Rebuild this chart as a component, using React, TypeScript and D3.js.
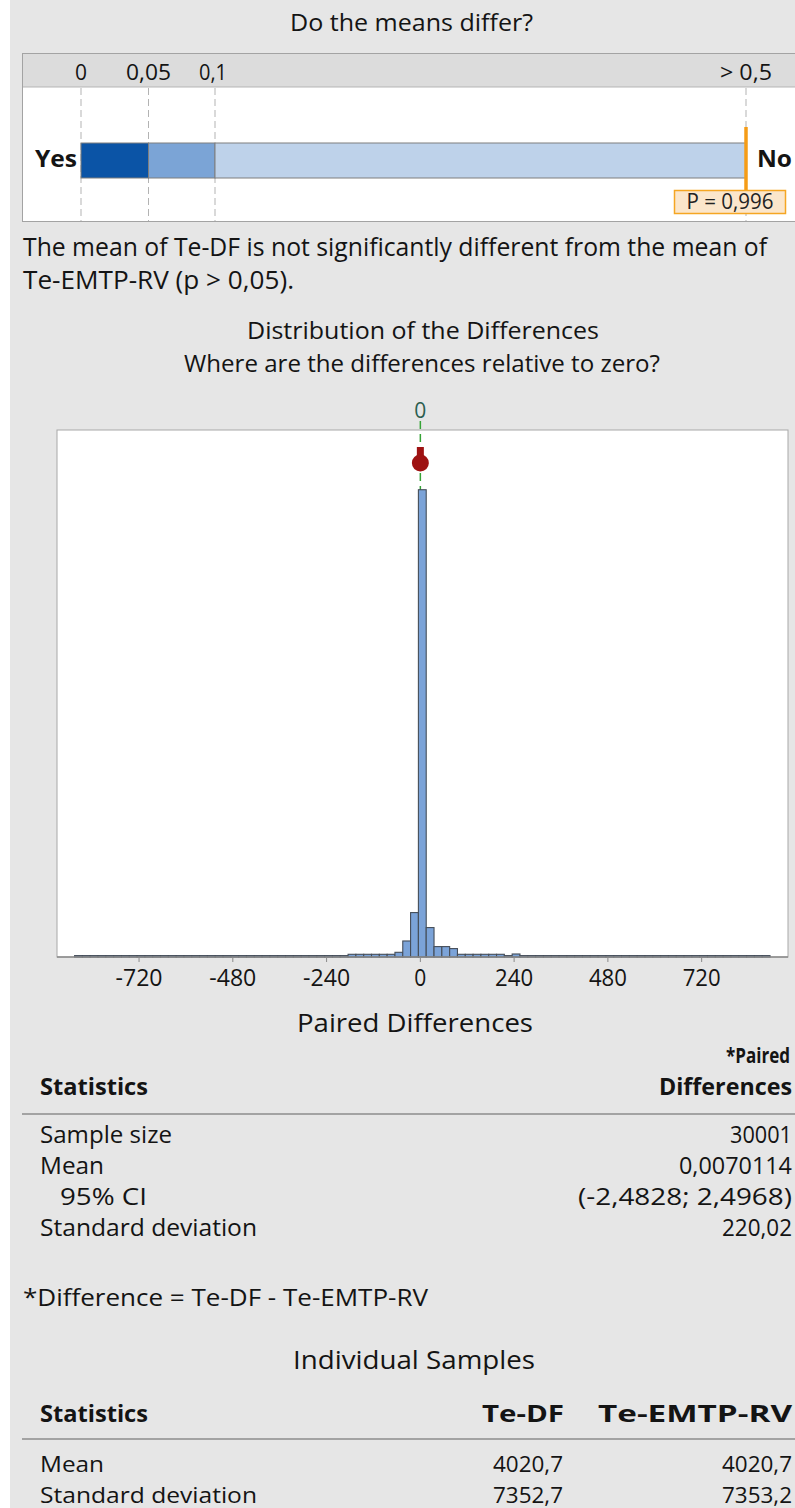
import React from "react";
import * as d3 from "d3";

const FONT = "'Open Sans', 'Noto Sans', 'DejaVu Sans', sans-serif";

// ---- "Do the means differ?" p-value scale ----
const pTickValues = [0, 0.05, 0.1, 0.5];
const pTickLabels = ["0", "0,05", "0,1", "> 0,5"];
const pBandEdges = [0, 0.05, 0.1, 0.5];
const pValue = 0.996;
const pValueLabel = "P = 0,996";

// ---- Distribution of the paired differences (histogram, bin width 20) ----
const binStart = -885;
const binWidth = 20;
const binCounts = [
  60, 60, 60, 60, 60, 60, 60, 60, 60, 60,
  60, 60, 60, 60, 60, 60, 60, 60, 60, 60,
  60, 60, 60, 60, 60, 60, 60, 60, 60, 60,
  60, 60, 60, 60, 60,
  117, 117, 117, 117, 117, 117,
  203, 693, 1922, 20216, 1273, 450, 450, 364,
  117, 117, 117, 117, 117, 117,
  60, 130,
  60, 60, 60, 60, 60, 60, 60, 60, 60, 60,
  60, 60, 60, 60, 60, 60, 60, 60, 60, 60,
  60, 60, 60, 60, 60, 60, 60, 60, 60, 60,
  60, 60,
];
const axisTicks = [-720, -480, -240, 0, 240, 480, 720];
const axisTickLabels = ["-720", "-480", "-240", "0", "240", "480", "720"];
const meanDiff = 0.0070114;
const ciLow = -2.4828;
const ciHigh = 2.4968;

// ---- Tables ----
const pairedRows = [
  ["Sample size", "30001"],
  ["Mean", "0,0070114"],
  ["95% CI", "(-2,4828; 2,4968)"],
  ["Standard deviation", "220,02"],
];
const sampleColumns = ["Te-DF", "Te-EMTP-RV"];
const sampleRows = [
  ["Mean", "4020,7", "4020,7"],
  ["Standard deviation", "7352,7", "7353,2"],
];

const BAND_COLORS = ["#0b54a6", "#7ba4d6", "#bed2ea"];

type TProps = {
  x: number;
  y: number;
  children: React.ReactNode;
  w?: number;
  anchor?: "start" | "middle" | "end";
  size?: number;
  weight?: number;
  fill?: string;
};

function T({ x, y, children, w, anchor = "start", size = 24, weight = 400, fill = "#141414" }: TProps) {
  const fit = w ? { textLength: w, lengthAdjust: "spacingAndGlyphs" as const } : {};
  return (
    <text x={x} y={y} textAnchor={anchor} fontSize={size} fontWeight={weight} fill={fill} fontFamily={FONT} {...fit}>
      {children}
    </text>
  );
}

export default function App() {
  const W = 795;
  const H = 1508;

  // p-value strip
  const pScale = d3.scaleLinear().domain(pTickValues).range([81, 148.5, 215, 746]).clamp(true);
  const barTop = 143;
  const barH = 35;
  const pX = pScale(pValue);

  // histogram
  const plot = { left: 57, right: 788, top: 430, bottom: 957 };
  const x = d3.scaleLinear().domain([-930, 941]).range([plot.left, plot.right]);
  const y = d3.scaleLinear().domain([0, 22800]).range([plot.bottom, plot.top]);
  const bins = binCounts.map((c, i) => {
    const x0 = binStart + i * binWidth;
    return { x0, x1: x0 + binWidth, count: c };
  });
  const zeroX = x(0);
  const meanY = 463;

  const pairedBase = [1143, 1174, 1205, 1236];
  const pairedLabelW = [132, 64, 87, 217];
  const pairedValueW = [62, 113, 214, 70];
  const sampleBase = [1472, 1503];
  const RIGHT = 792;

  return (
    <svg width={W} height={H} style={{ position: "absolute", left: 0, top: 0, background: "#e6e6e6" }}>
      <rect x={0} y={0} width={W} height={H} fill="#e6e6e6" />
      <rect x={0} y={0} width={10} height={H} fill="#ffffff" />

      {/* ---------- Do the means differ? ---------- */}
      <T x={411.5} y={31} anchor="middle" w={243}>Do the means differ?</T>

      <rect x={22.5} y={53.5} width={800} height={168} fill="#ffffff" stroke="#a3a3a3" />
      <rect x={23} y={54} width={780} height={33} fill="#dcdcdc" />
      <line x1={23} x2={W} y1={87} y2={87} stroke="#b5b5b5" />

      {pTickValues.map((v, i) => (
        <g key={`pt${i}`}>
          <line x1={pScale(v)} x2={pScale(v)} y1={88} y2={221} stroke="#b3b3b3" strokeDasharray="7 4" />
          <T x={i === 2 ? pScale(v) - 2 : pScale(v)} y={80} anchor="middle" size={22} w={[12, 45, 28, 52][i]}>
            {pTickLabels[i]}
          </T>
        </g>
      ))}

      {BAND_COLORS.map((c, i) => (
        <rect
          key={`band${i}`}
          x={pScale(pBandEdges[i])}
          y={barTop}
          width={pScale(pBandEdges[i + 1]) - pScale(pBandEdges[i])}
          height={barH}
          fill={c}
          stroke="#7f7f7f"
        />
      ))}

      <T x={35} y={167} w={42} weight={700}>Yes</T>
      <T x={757} y={167} w={35} weight={700}>No</T>

      <line x1={pX} x2={pX} y1={127} y2={190} stroke="#f59c17" strokeWidth={3.5} />
      <rect x={674.5} y={190.5} width={111} height={23} fill="#fbe6cb" stroke="#f5a623" strokeWidth={1.5} />
      <T x={730} y={209} anchor="middle" size={21} w={87} fill="#222">{pValueLabel}</T>

      {/* ---------- Conclusion ---------- */}
      <T x={23} y={256} w={744} size={25}>The mean of Te-DF is not significantly different from the mean of</T>
      <T x={23} y={289} w={271} size={25}>Te-EMTP-RV (p &gt; 0,05).</T>

      {/* ---------- Distribution of the Differences ---------- */}
      <T x={423} y={339} anchor="middle" w={352}>Distribution of the Differences</T>
      <T x={422} y={372} anchor="middle" w={476}>Where are the differences relative to zero?</T>

      <rect x={plot.left} y={plot.top} width={plot.right - plot.left} height={plot.bottom - plot.top} fill="#ffffff" stroke="#a8a8a8" />

      <T x={zeroX} y={418} anchor="middle" size={21} fill="#2b5e50">0</T>
      <line x1={zeroX} x2={zeroX} y1={421} y2={plot.bottom} stroke="#36a336" strokeWidth={1.5} strokeDasharray="8 5" />

      {bins.map((b, i) =>
        b.count > 0 ? (
          <rect
            key={`bin${i}`}
            x={x(b.x0)}
            y={y(b.count)}
            width={x(b.x1) - x(b.x0)}
            height={plot.bottom - y(b.count)}
            fill="#7ba3d8"
            stroke="#454d58"
            strokeWidth={1.1}
          />
        ) : null
      )}

      <line x1={plot.left} x2={plot.right} y1={plot.bottom} y2={plot.bottom} stroke="#8a8a8a" strokeWidth={1.5} />
      {axisTicks.map((t, i) => (
        <g key={`ax${i}`}>
          <line x1={x(t)} x2={x(t)} y1={plot.bottom} y2={plot.bottom + 5} stroke="#8a8a8a" />
          <T x={x(t)} y={986} anchor="middle" size={23} w={[47, 47, 47, 12, 38, 38, 38][i]}>{axisTickLabels[i]}</T>
        </g>
      ))}

      {/* mean with 95% confidence interval */}
      <line x1={x(ciLow)} x2={x(ciHigh)} y1={meanY} y2={meanY} stroke="#9e1212" strokeWidth={3} />
      <rect x={x(meanDiff) - 3.5} y={447} width={7} height={10} fill="#9e1212" />
      <circle cx={x(meanDiff)} cy={meanY} r={8.5} fill="#9e1212" />

      {/* ---------- Paired Differences table ---------- */}
      <T x={415} y={1032} anchor="middle" w={236} size={25}>Paired Differences</T>
      <T x={790} y={1063} anchor="end" w={64} weight={700} size={22}>*Paired</T>
      <T x={40} y={1095} w={108} weight={700} size={23}>Statistics</T>
      <T x={RIGHT} y={1095} anchor="end" w={133} weight={700} size={23}>Differences</T>
      <line x1={22} x2={W} y1={1114} y2={1114} stroke="#a3a3a3" strokeWidth={2} />
      {pairedRows.map((r, i) => (
        <g key={`pr${i}`}>
          <T x={i === 2 ? 60 : 40} y={pairedBase[i]} w={pairedLabelW[i]} size={23}>{r[0]}</T>
          <T x={RIGHT} y={pairedBase[i]} anchor="end" w={pairedValueW[i]} size={23}>{r[1]}</T>
        </g>
      ))}

      <T x={23} y={1306} w={405} size={23}>*Difference = Te-DF - Te-EMTP-RV</T>

      {/* ---------- Individual Samples table ---------- */}
      <T x={414} y={1369} anchor="middle" w={242} size={25}>Individual Samples</T>
      <T x={40} y={1422} w={108} weight={700} size={23}>Statistics</T>
      <T x={564} y={1422} anchor="end" w={82} weight={700} size={23}>{sampleColumns[0]}</T>
      <T x={RIGHT} y={1422} anchor="end" w={194} weight={700} size={23}>{sampleColumns[1]}</T>
      <line x1={22} x2={W} y1={1439} y2={1439} stroke="#a3a3a3" strokeWidth={2} />
      {sampleRows.map((r, i) => (
        <g key={`sr${i}`}>
          <T x={40} y={sampleBase[i]} w={i === 0 ? 64 : 217} size={22}>{r[0]}</T>
          <T x={563} y={sampleBase[i]} anchor="end" w={70} size={22}>{r[1]}</T>
          <T x={RIGHT} y={sampleBase[i]} anchor="end" w={70} size={22}>{r[2]}</T>
        </g>
      ))}
    </svg>
  );
}
